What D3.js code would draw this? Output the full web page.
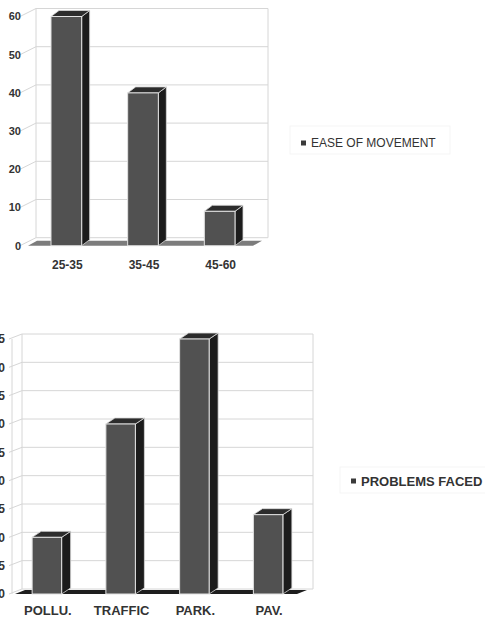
<!DOCTYPE html>
<html>
<head>
<meta charset="utf-8">
<script src="https://cdn.jsdelivr.net/npm/d3@7/dist/d3.min.js"></script>
<style>
  html, body { margin: 0; padding: 0; background: #fff; }
  svg { display: block; }
  text { font-family: "Liberation Sans", Arial, Helvetica, sans-serif; fill: #333; }
</style>
</head>
<body>
<svg id="chart" width="485" height="620"></svg>
<script>
// Chart 1: ease of movement by age group
const ageGroups = ["25-35", "35-45", "45-60"];
const easeOfMovement = [60, 40, 9];
const ageTicks = [0, 10, 20, 30, 40, 50, 60];
const legendEase = "EASE OF MOVEMENT";

// Chart 2: problems faced
const problemTypes = ["POLLU.", "TRAFFIC", "PARK.", "PAV."];
const problemsFaced = [10, 30, 45, 14];
const problemTicks = [0, 5, 10, 15, 20, 25, 30, 35, 40, 45];
const legendProblems = "PROBLEMS FACED";

const svg = d3.select("#chart");
svg.append("rect").attr("width", 485).attr("height", 620).attr("fill", "#fff");

function draw3DColumns(opt) {
  const g = svg.append("g");
  const y = d3.scaleLinear().domain([0, d3.max(opt.ticks)]).range([opt.yBase, opt.yTop]);
  const x = d3.scaleBand().domain(opt.categories).range(opt.xRange)
    .paddingInner(0.6).paddingOuter(0.3);
  const y0 = y(0);
  const w = opt.wall;   // back-wall offset
  const d = opt.depth;  // column depth offset
  const f = opt.floor;  // floor depth offset

  // back wall frame + gridlines
  const grid = g.append("g").attr("stroke", "#d6d6d6").attr("stroke-width", 1).attr("fill", "none");
  grid.append("line")
    .attr("x1", opt.xf + w[0]).attr("x2", opt.xf + w[0])
    .attr("y1", y(0) + w[1]).attr("y2", y(d3.max(opt.ticks)) + w[1]);
  grid.append("line")
    .attr("x1", opt.xRight).attr("x2", opt.xRight)
    .attr("y1", y(0) + w[1]).attr("y2", y(d3.max(opt.ticks)) + w[1]);
  if (opt.frontAxis) {
    grid.append("line")
      .attr("x1", opt.xf).attr("x2", opt.xf)
      .attr("y1", y(0)).attr("y2", y(d3.max(opt.ticks)));
  }
  opt.ticks.forEach(t => {
    grid.append("polyline")
      .attr("points", [
        [opt.xf - 3, y(t)],
        [opt.xf + w[0], y(t) + w[1]],
        [opt.xRight, y(t) + w[1]]
      ].map(p => p.join(",")).join(" "));
  });

  // value labels
  g.append("g").selectAll("text").data(opt.ticks).join("text")
    .attr("x", opt.labelX).attr("y", t => y(t))
    .attr("dy", "0.35em").attr("text-anchor", "end")
    .attr("font-size", opt.tickFont).attr("font-weight", "bold")
    .text(t => t);

  // floor slab
  g.append("polygon")
    .attr("points", [
      [opt.floorX[0], y0], [opt.floorX[1], y0],
      [opt.floorX[1] + f[0], y0 + f[1]], [opt.floorX[0] + f[0], y0 + f[1]]
    ].map(p => p.join(",")).join(" "))
    .attr("fill", opt.floorColor);

  // columns
  const bw = x.bandwidth();
  const bars = g.append("g").selectAll("g").data(opt.values).join("g");
  bars.append("polygon") // side face
    .attr("points", (v, i) => {
      const xb = x(opt.categories[i]) + bw, yt = y(v);
      return [[xb, yt], [xb + d[0], yt + d[1]], [xb + d[0], y0 + d[1]], [xb, y0]]
        .map(p => p.join(",")).join(" ");
    })
    .attr("fill", "#1c1c1c").attr("stroke", "#d8d8d8").attr("stroke-width", 0.8);
  bars.append("polygon") // top face
    .attr("points", (v, i) => {
      const xb = x(opt.categories[i]), yt = y(v);
      return [[xb, yt], [xb + bw, yt], [xb + bw + d[0], yt + d[1]], [xb + d[0], yt + d[1]]]
        .map(p => p.join(",")).join(" ");
    })
    .attr("fill", "#2c2c2c").attr("stroke", "#d8d8d8").attr("stroke-width", 0.8);
  bars.append("rect") // front face
    .attr("x", (v, i) => x(opt.categories[i]))
    .attr("y", v => y(v))
    .attr("width", bw)
    .attr("height", v => y0 - y(v))
    .attr("fill", "#515151").attr("stroke", "#e2e2e2").attr("stroke-width", 1);

  // category labels
  g.append("g").selectAll("text").data(opt.categories).join("text")
    .attr("x", c => x(c) + bw / 2 + 1)
    .attr("y", opt.catY)
    .attr("text-anchor", "middle")
    .attr("font-size", opt.catFont).attr("font-weight", "bold")
    .text(c => c);

  // legend
  const lg = g.append("g");
  lg.append("rect")
    .attr("x", opt.legendBox[0]).attr("y", opt.legendBox[1])
    .attr("width", opt.legendBox[2]).attr("height", opt.legendBox[3])
    .attr("fill", "none").attr("stroke", "#f5f5f5");
  lg.append("rect")
    .attr("x", opt.legendX).attr("y", opt.legendY - 2.5)
    .attr("width", 5).attr("height", 5).attr("fill", "#3a3a3a");
  lg.append("text")
    .attr("x", opt.legendX + 10).attr("y", opt.legendY)
    .attr("dy", "0.36em")
    .attr("font-size", opt.legendFont).attr("font-weight", opt.legendWeight)
    .text(opt.legend);
}

draw3DColumns({
  categories: ageGroups, values: easeOfMovement, ticks: ageTicks, legend: legendEase,
  yBase: 245.7, yTop: 16.5, xRange: [28, 258],
  xf: 23, xRight: 268, wall: [13, -8], depth: [8, -6], floor: [9, -5],
  floorX: [28, 253], floorColor: "#7c7c7c", frontAxis: false,
  labelX: 21, tickFont: 11, catY: 269, catFont: 12,
  legendX: 301, legendY: 143, legendFont: 12, legendWeight: "normal",
  legendBox: [290, 126, 160, 28]
});

draw3DColumns({
  categories: problemTypes, values: problemsFaced, ticks: problemTicks, legend: legendProblems,
  yBase: 594, yTop: 339, xRange: [10, 305],
  xf: 12, xRight: 313, wall: [10, -5], depth: [9, -6], floor: [10, -4],
  floorX: [15, 297], floorColor: "#1e1e1e", frontAxis: true,
  labelX: 5, tickFont: 12, catY: 615, catFont: 13,
  legendX: 351, legendY: 481, legendFont: 13, legendWeight: "bold",
  legendBox: [340, 467, 150, 26]
});
</script>
</body>
</html>
